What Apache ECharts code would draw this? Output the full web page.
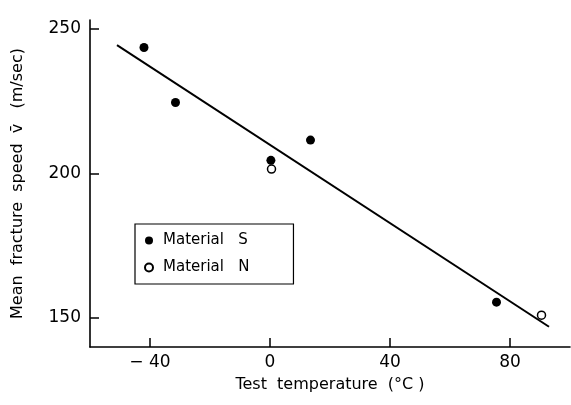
<!DOCTYPE html>
<html>
<head>
<meta charset="utf-8">
<script src="https://cdn.jsdelivr.net/npm/echarts@6/dist/echarts.min.js"></script>
<style>html,body{margin:0;padding:0;background:#fff}#c{width:571px;height:405px}</style>
</head>
<body>
<div id="c"></div>
<script>
// Data
const xTicks = [-40, 0, 40, 80];
const yTicks = [150, 200, 250];
const materialS = [[-42, 243.5], [-31.5, 224.5], [0.3, 204.5], [13.5, 211.5], [75.5, 155.5]];
const materialN = [[0.5, 201.5], [90.5, 151]];
const fitLine = [[-51, 244.3], [93, 147]];

const font = 'DejaVu Sans';
const chart = echarts.init(document.getElementById('c'));
chart.setOption({
  animation: false,
  backgroundColor: '#fff',
  grid: { left: 90, right: 1, top: 20, bottom: 58 },
  legend: {
    orient: 'vertical',
    left: 135, top: 224,
    backgroundColor: '#fff',
    borderColor: '#000', borderWidth: 1.2,
    padding: [9, 44, 9, 9],
    itemWidth: 8, itemHeight: 8, itemGap: 12,
    textStyle: { fontFamily: font, fontSize: 15, color: '#000', padding: [0, 0, 0, 5] },
    data: ['Material   S', 'Material   N']
  },
  xAxis: {
    type: 'value', min: -60, max: 100,
    name: 'Test  temperature  (°C )', nameLocation: 'middle', nameGap: 30,
    nameTextStyle: { fontFamily: font, fontSize: 16, color: '#000' },
    axisLine: { show: true, onZero: false, lineStyle: { color: '#000', width: 1.6 } },
    axisTick: { show: true, inside: true, length: 9, lineStyle: { color: '#000', width: 1.5 }, customValues: xTicks },
    axisLabel: { fontFamily: font, fontSize: 17, color: '#000', margin: 7, customValues: xTicks,
      formatter: v => v < 0 ? '\u2212 ' + Math.abs(v) : String(v) },
    splitLine: { show: false }
  },
  yAxis: {
    type: 'value', min: 140, max: 253,
    name: 'Mean  fracture  speed  v\u0304   (m/sec)', nameLocation: 'middle', nameGap: 64,
    nameTextStyle: { fontFamily: font, fontSize: 16, color: '#000' },
    axisLine: { show: true, onZero: false, lineStyle: { color: '#000', width: 1.6 } },
    axisTick: { show: true, inside: true, length: 9, lineStyle: { color: '#000', width: 1.5 }, customValues: yTicks },
    axisLabel: { fontFamily: font, fontSize: 17, color: '#000', margin: 9, customValues: yTicks },
    splitLine: { show: false }
  },
  series: [
    { type: 'line', data: fitLine, symbol: 'none', lineStyle: { color: '#000', width: 2 }, silent: true, z: 1 },
    { name: 'Material   S', type: 'scatter', data: materialS, symbol: 'circle', symbolSize: 9,
      itemStyle: { color: '#000', opacity: 1 }, z: 3 },
    { name: 'Material   N', type: 'scatter', data: materialN, symbol: 'circle', symbolSize: 8,
      itemStyle: { color: '#fff', borderColor: '#000', borderWidth: 1.5, opacity: 1 }, z: 3 }
  ]
});
</script>
</body>
</html>
